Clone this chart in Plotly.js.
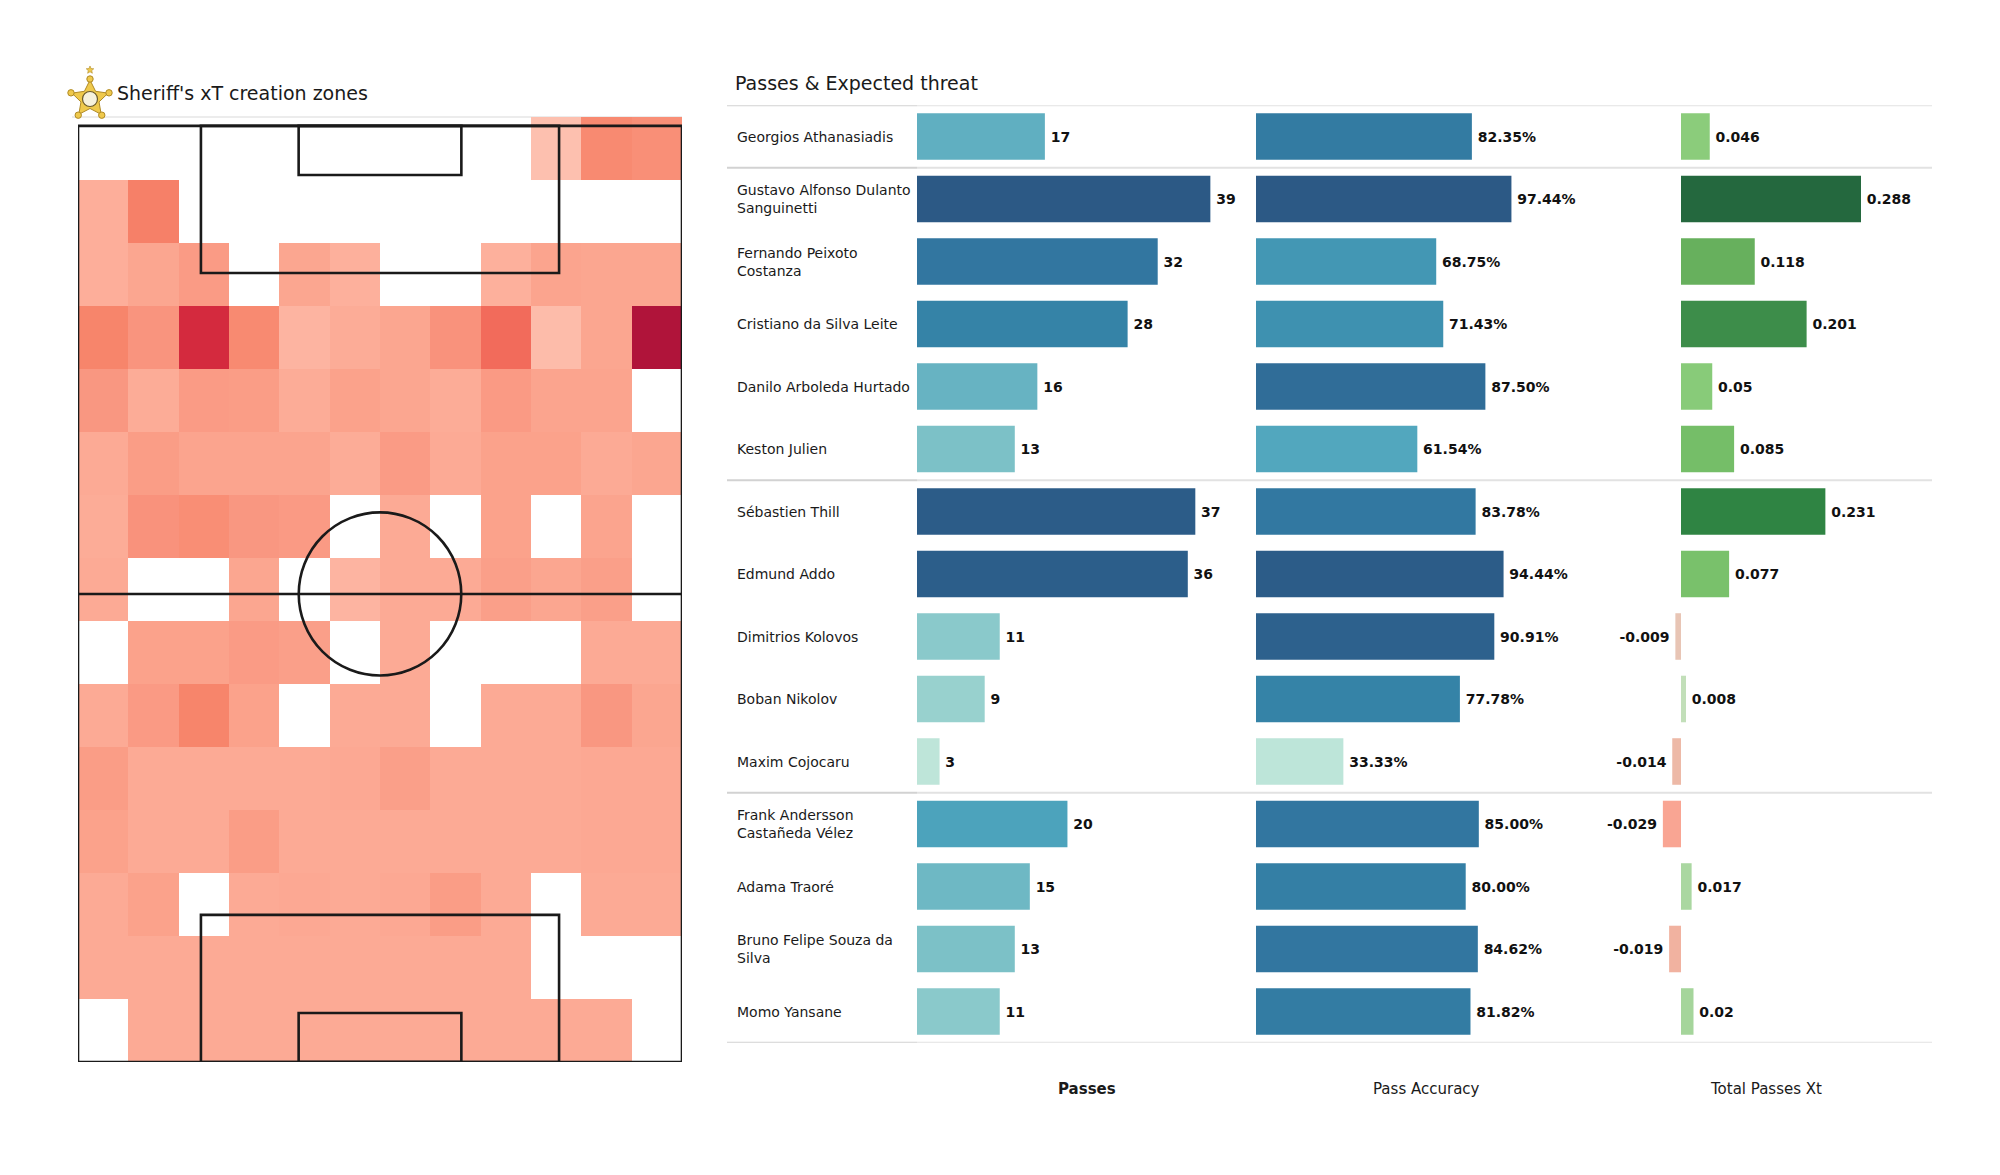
<!DOCTYPE html>
<html>
<head>
<meta charset="utf-8">
<script src="https://cdn.plot.ly/plotly-3.0.1.min.js"></script>
<style>html,body{margin:0;padding:0;background:#fff;}#chart{width:2000px;height:1175px;}</style>
</head>
<body>
<div id="chart"></div>
<script>
// ---------- DATA ----------
const players = ["Georgios Athanasiadis","Gustavo Alfonso Dulanto Sanguinetti","Fernando Peixoto Costanza","Cristiano da Silva Leite","Danilo Arboleda Hurtado","Keston Julien","Sébastien Thill","Edmund Addo","Dimitrios Kolovos","Boban Nikolov","Maxim Cojocaru","Frank Andersson Castañeda Vélez","Adama Traoré","Bruno Felipe Souza da Silva","Momo Yansane"];
const playerLabels = ["Georgios Athanasiadis","Gustavo Alfonso Dulanto<br>Sanguinetti","Fernando Peixoto<br>Costanza","Cristiano da Silva Leite","Danilo Arboleda Hurtado","Keston Julien","Sébastien Thill","Edmund Addo","Dimitrios Kolovos","Boban Nikolov","Maxim Cojocaru","Frank Andersson<br>Castañeda Vélez","Adama Traoré","Bruno Felipe Souza da<br>Silva","Momo Yansane"];
const passes = [17,39,32,28,16,13,37,36,11,9,3,20,15,13,11];
const passAccuracy = [82.35,97.44,68.75,71.43,87.50,61.54,83.78,94.44,90.91,77.78,33.33,85.00,80.00,84.62,81.82];
const totalPassesXt = [0.046,0.288,0.118,0.201,0.05,0.085,0.231,0.077,-0.009,0.008,-0.014,-0.029,0.017,-0.019,0.02];
const groupBreaksAfter = [0,5,10];
const columnTitles = ["Passes","Pass Accuracy","Total Passes Xt"];

// xT creation zones: 15 rows (top = attacking end) x 12 columns (left to right); null = no value
const zoneRows = [
  [null,null,null,null,null,null,null,null,null,0.02,0.27,0.24],
  [0.07,0.33,null,null,null,null,null,null,null,null,null,null],
  [0.07,0.11,0.16,null,0.11,0.06,null,null,0.06,0.12,0.11,0.11],
  [0.30,0.21,0.80,0.27,0.05,0.08,0.11,0.22,0.45,0.03,0.11,1.00],
  [0.19,0.08,0.16,0.15,0.08,0.13,0.11,0.08,0.17,0.12,0.12,null],
  [0.09,0.15,0.12,0.12,0.12,0.08,0.16,0.09,0.13,0.13,0.09,0.11],
  [0.08,0.22,0.25,0.19,0.17,null,0.09,null,0.13,null,0.12,null],
  [0.09,null,null,0.11,null,0.05,0.09,0.09,0.14,0.11,0.14,null],
  [null,0.13,0.13,0.16,0.14,null,0.09,null,null,null,0.09,0.09],
  [0.09,0.17,0.30,0.13,null,0.09,0.09,null,0.09,0.09,0.19,0.11],
  [0.15,0.09,0.09,0.09,0.09,0.10,0.14,0.09,0.09,0.09,0.10,0.10],
  [0.13,0.09,0.09,0.15,0.09,0.09,0.09,0.09,0.09,0.09,0.10,0.10],
  [0.09,0.13,null,0.09,0.10,0.09,0.10,0.15,0.09,null,0.09,0.09],
  [0.09,0.09,0.09,0.09,0.09,0.09,0.09,0.09,0.09,null,null,null],
  [null,0.09,0.09,0.09,0.09,0.09,0.09,0.09,0.09,0.09,0.09,null]
];

// ---------- STYLE ----------
const W = 2000, H = 1175;
const FONT = "DejaVu Sans, Verdana, sans-serif";
const px = v => v / W;
const py = v => 1 - v / H;
const GAP = '\u2009';

const blueScale = [[0,'#cdeee3'],[0.08,'#bde5d9'],[0.25,'#93cfcd'],[0.4,'#6ab5c3'],[0.5,'#4ea5bd'],[0.7,'#3585a8'],[0.82,'#3276a0'],[0.92,'#2c5e8a'],[1,'#2c5985']];
const xtScale = [[0,'#f9a593'],[0.045,'#eeb7a5'],[0.07,'#e6cbbb'],[0.0915,'#dde3d0'],[0.12,'#bfdfb6'],[0.15,'#a6d59d'],[0.23,'#8ccd7c'],[0.35,'#76bf69'],[0.46,'#68b05d'],[0.72,'#3e8e4a'],[0.82,'#2f8443'],[1,'#24683e']];
const redScale = [[0,'#fdc9b9'],[0.03,'#fdbcaa'],[0.06,'#fdb09c'],[0.09,'#fcaa95'],[0.12,'#fba48e'],[0.15,'#fa9d86'],[0.2,'#f99580'],[0.25,'#f98e75'],[0.3,'#f7856b'],[0.45,'#f26b5b'],[0.8,'#d42a3e'],[1,'#b0143a']];

const labelFont = {family: FONT, size: 14, color: '#111', weight: 'bold'};
const barCommon = {type:'bar', orientation:'h', y: players, width: 0.745, textposition:'outside',
  cliponaxis:false, constraintext:'none', textfont: labelFont, hoverinfo:'x+y', yaxis:'y'};

const maxPass = Math.max(...passes);
const minAcc = Math.min(...passAccuracy), maxAcc = Math.max(...passAccuracy);
const minXt = Math.min(...totalPassesXt), maxXt = Math.max(...totalPassesXt);
const padLabel = (v, s) => v < 0 ? s + GAP : GAP + s;

const traces = [
  Object.assign({}, barCommon, {x: passes, xaxis:'x', text: passes.map(v => padLabel(v, String(v))),
    marker:{color: passes, colorscale: blueScale, cmin: 0, cmax: maxPass}}),
  Object.assign({}, barCommon, {x: passAccuracy, xaxis:'x2', text: passAccuracy.map(v => padLabel(v, v.toFixed(2) + '%')),
    marker:{color: passAccuracy, colorscale: blueScale, cmin: minAcc - 0.087*(maxAcc-minAcc), cmax: maxAcc}}),
  Object.assign({}, barCommon, {x: totalPassesXt, xaxis:'x3', text: totalPassesXt.map(v => padLabel(v, String(v))),
    marker:{color: totalPassesXt, colorscale: xtScale, cmin: minXt, cmax: maxXt}}),
  {type:'heatmap', z: zoneRows.slice().reverse(), x0: 68/24, dx: 68/12, y0: 106/30, dy: 106/15,
   xaxis:'x4', yaxis:'y4', colorscale: redScale, zmin: 0, zmax: 1, showscale:false, hoverongaps:false, xgap:0, ygap:0}
];

// ---------- SHAPES ----------
const shapes = [];
const lineStyle = {color:'#1a1a1a', width:2.6};
function pitchRect(x0,y0,x1,y1){ shapes.push({type:'rect', xref:'x4', yref:'y4', x0, y0, x1, y1, line: lineStyle, layer:'above'}); }
pitchRect(0,0,68,105);
pitchRect(13.84,0,54.16,16.5);
pitchRect(13.84,88.5,54.16,105);
pitchRect(24.84,0,43.16,5.5);
pitchRect(24.84,99.5,43.16,105);
shapes.push({type:'line', xref:'x4', yref:'y4', x0:0, x1:68, y0:52.5, y1:52.5, line: lineStyle, layer:'above'});
shapes.push({type:'circle', xref:'x4', yref:'y4', x0:34-9.15, x1:34+9.15, y0:52.5-9.15, y1:52.5+9.15, line: lineStyle, layer:'above'});
// light rule under left title
shapes.push({type:'line', xref:'paper', yref:'paper', x0:px(72), x1:px(682), y0:py(117), y1:py(117), line:{color:'#e6e6e6', width:1.5}, layer:'below'});

// separators in the table
[-0.5].concat(groupBreaksAfter.map(i => i + 0.5), [players.length - 0.5]).forEach(yv => {
  shapes.push({type:'line', xref:'paper', yref:'y', x0:px(727), x1:px(917), y0:yv, y1:yv, line:{color:'#d2d2d2', width:2}});
  shapes.push({type:'line', xref:'paper', yref:'y', x0:px(917), x1:px(1932), y0:yv, y1:yv, line:{color:'#e2e2e2', width:2}});
});

// sheriff-star logo (decorative)
function starPath(cx, cy, rOut, rIn){
  let d = '';
  for (let k = 0; k < 10; k++){
    const a = -Math.PI/2 + k*Math.PI/5;
    const r = k % 2 === 0 ? rOut : rIn;
    const x = cx + r*Math.cos(a), y = cy + r*Math.sin(a);
    d += (k === 0 ? 'M' : 'L') + px(x).toFixed(5) + ',' + py(y).toFixed(5);
  }
  return d + 'Z';
}
const logo = {cx: 90, cy: 99, r: 19};
shapes.push({type:'path', xref:'paper', yref:'paper', path: starPath(logo.cx, logo.cy, logo.r, 9.5), fillcolor:'#efc94c', line:{color:'#b08a25', width:1}});
for (let k = 0; k < 5; k++){
  const a = -Math.PI/2 + k*2*Math.PI/5;
  const bx = logo.cx + (logo.r+1)*Math.cos(a), by = logo.cy + (logo.r+1)*Math.sin(a);
  shapes.push({type:'circle', xref:'paper', yref:'paper', x0:px(bx-3.2), x1:px(bx+3.2), y0:py(by+3.2), y1:py(by-3.2), fillcolor:'#efc94c', line:{color:'#b08a25', width:1}});
}
shapes.push({type:'circle', xref:'paper', yref:'paper', x0:px(logo.cx-7.5), x1:px(logo.cx+7.5), y0:py(logo.cy+7.5), y1:py(logo.cy-7.5), fillcolor:'#f6f1dc', line:{color:'#6b5a2a', width:1.2}});
shapes.push({type:'path', xref:'paper', yref:'paper', path: starPath(logo.cx, 70, 4, 1.8), fillcolor:'#efc94c', line:{color:'#b08a25', width:0.6}});

// ---------- ANNOTATIONS ----------
const annotations = [];
annotations.push({text:"Sheriff's xT creation zones", xref:'paper', yref:'paper', x:px(115), y:py(93), xanchor:'left', yanchor:'middle', showarrow:false, font:{family:FONT, size:19, color:'#1a1a1a'}});
annotations.push({text:"Passes & Expected threat", xref:'paper', yref:'paper', x:px(733), y:py(83), xanchor:'left', yanchor:'middle', showarrow:false, font:{family:FONT, size:19, color:'#1a1a1a'}});
players.forEach((p, i) => {
  annotations.push({text: playerLabels[i], xref:'paper', yref:'y', x:px(735), y:p, xanchor:'left', yanchor:'middle', align:'left', showarrow:false, font:{family:FONT, size:14, color:'#1a1a1a'}});
});
['x','x2','x3'].forEach((ax, i) => {
  annotations.push({text: columnTitles[i], xref: ax + ' domain', yref:'paper', x:0.5, y:py(1089), xanchor:'center', yanchor:'middle', showarrow:false,
    font:{family:FONT, size:15, color:'#1a1a1a', weight: i === 0 ? 'bold' : 'normal'}});
});

// ---------- LAYOUT ----------
const hidden = {showgrid:false, zeroline:false, showticklabels:false, ticks:'', showline:false, fixedrange:true};
const yDom = [py(1042.75), py(105.25)];
const layout = {
  width: W, height: H, margin:{l:0,r:0,t:0,b:0}, paper_bgcolor:'#fff', plot_bgcolor:'rgba(0,0,0,0)',
  showlegend:false, font:{family:FONT},
  xaxis: Object.assign({}, hidden, {domain:[px(917), px(1257)], range:[0, 45.2], anchor:'y'}),
  xaxis2: Object.assign({}, hidden, {domain:[px(1256), px(1596)], range:[0, 129.7], anchor:'y'}),
  xaxis3: Object.assign({}, hidden, {domain:[px(1596), px(1936)], range:[-0.136, 0.408], anchor:'y'}),
  yaxis: Object.assign({}, hidden, {domain: yDom, type:'category', categoryorder:'array', categoryarray: players, range:[players.length - 0.5, -0.5], anchor:'x'}),
  xaxis4: Object.assign({}, hidden, {domain:[px(78), px(682)], range:[0, 68], anchor:'y4'}),
  yaxis4: Object.assign({}, hidden, {domain:[py(1062), py(117)], range:[0, 106], anchor:'x4'}),
  shapes, annotations, bargap: 0.25
};

Plotly.newPlot('chart', traces, layout, {staticPlot:true, displayModeBar:false});
</script>
</body>
</html>
